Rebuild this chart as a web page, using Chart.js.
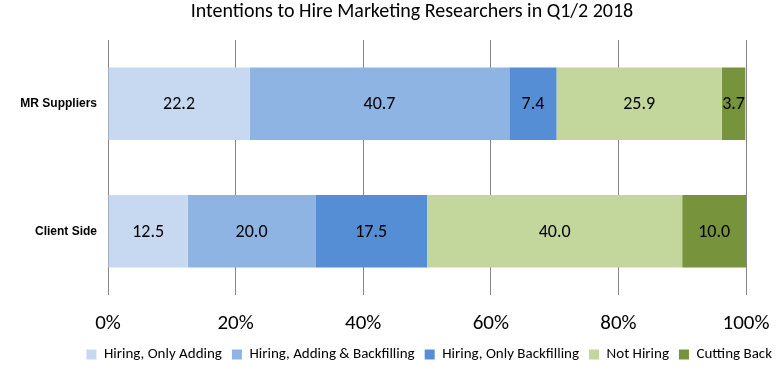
<!DOCTYPE html>
<html>
<head>
<meta charset="utf-8">
<script src="https://cdn.jsdelivr.net/npm/chart.js@4.4.1/dist/chart.umd.min.js"></script>
<style>
  html, body { margin: 0; padding: 0; background: #fff; }
  #wrap { width: 782px; height: 372px; }
</style>
</head>
<body>
<div id="wrap"><canvas id="hire-chart" width="782" height="372"></canvas></div>
<script>
const categories = ['MR Suppliers', 'Client Side'];
const seriesNames = ['Hiring, Only Adding', 'Hiring, Adding & Backfilling', 'Hiring, Only Backfilling', 'Not Hiring', 'Cutting Back'];
const onlyAdding = [22.2, 12.5];
const addingBackfilling = [40.7, 20.0];
const onlyBackfilling = [7.4, 17.5];
const notHiring = [25.9, 40.0];
const cuttingBack = [3.7, 10.0];
const xTicks = [0, 20, 40, 60, 80, 100];
const colors = ['#C6D9F1', '#8EB4E3', '#558ED5', '#C3D69B', '#77933C'];

const calibri = '"Carlito", "Calibri", "Lato", sans-serif';

// value labels in the middle of each segment
const barLabels = {
    id: 'barLabels',
    afterDatasetsDraw(chart) {
        const ctx = chart.ctx;
        ctx.save();
        ctx.font = '18px ' + calibri;
        ctx.fillStyle = '#000';
        ctx.textAlign = 'center';
        ctx.textBaseline = 'middle';
        chart.data.datasets.forEach((ds, i) => {
            chart.getDatasetMeta(i).data.forEach((bar, j) => {
                const x = (bar.x + bar.base) / 2;
                ctx.fillText(ds.data[j].toFixed(1), x, bar.y + 1);
            });
        });
        ctx.restore();
    }
};

// title sits a bit right of the canvas centre in the original
const titleShift = {
    id: 'titleShift',
    afterLayout(chart) {
        if (chart.titleBlock) chart.titleBlock.left = 42;
    }
};

const allSeries = [onlyAdding, addingBackfilling, onlyBackfilling, notHiring, cuttingBack];

const ctx = document.getElementById('hire-chart').getContext('2d');
new Chart(ctx, {
    type: 'bar',
    data: {
        labels: categories,
        datasets: allSeries.map((vals, i) => ({
            label: seriesNames[i],
            data: vals,
            backgroundColor: colors[i],
            borderWidth: 0,
            categoryPercentage: 1,
            barPercentage: 0.57
        }))
    },
    options: {
        indexAxis: 'y',
        responsive: false,
        animation: false,
        layout: { padding: 0 },
        plugins: {
            title: {
                display: true,
                text: 'Intentions to Hire Marketing Researchers in Q1/2 2018',
                color: '#000',
                font: { family: calibri, size: 20, weight: 'normal' },
                padding: { top: 0, bottom: 16 }
            },
            legend: {
                position: 'bottom',
                align: 'end',
                labels: {
                    color: '#000',
                    font: { family: calibri, size: 15 },
                    boxWidth: 10,
                    boxHeight: 10,
                    padding: 10
                }
            },
            tooltip: { enabled: false }
        },
        scales: {
            x: {
                stacked: true,
                min: 0,
                max: 100,
                afterBuildTicks: (scale) => { scale.ticks = xTicks.map(v => ({ value: v })); },
                ticks: {
                    color: '#000',
                    font: { family: calibri, size: 21 },
                    padding: 16,
                    callback: v => v + '%'
                },
                grid: { color: '#868686', drawTicks: false },
                border: { display: false },
                afterFit: (scale) => {
                    scale.height = 42;
                    scale.paddingLeft = 0;
                    scale.paddingRight = 0;
                }
            },
            y: {
                stacked: true,
                ticks: {
                    color: '#000',
                    font: { family: '"Liberation Sans", Arial, sans-serif', size: 12, weight: 'bold' },
                    padding: 11
                },
                grid: { display: false, drawTicks: false },
                border: { display: false },
                afterFit: (scale) => { scale.width = 108; }
            },
            y2: {
                position: 'right',
                display: true,
                ticks: { display: false },
                grid: { display: false, drawTicks: false },
                border: { display: false },
                afterFit: (scale) => { scale.width = 36; }
            }
        }
    },
    plugins: [barLabels, titleShift]
});
</script>
</body>
</html>
